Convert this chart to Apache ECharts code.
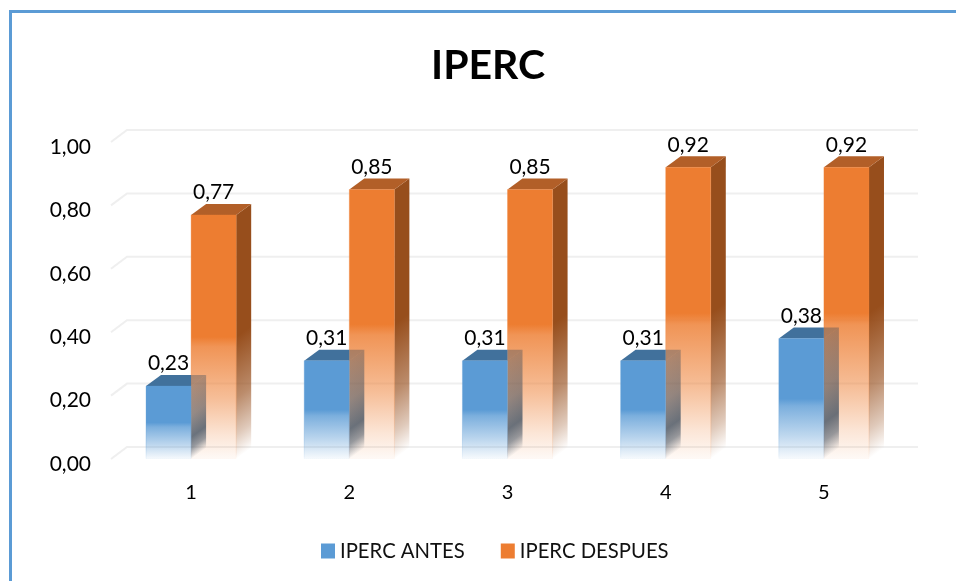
<!DOCTYPE html>
<html>
<head>
<meta charset="utf-8">
<style>html,body{margin:0;padding:0;background:#fff}#c{width:956px;height:581px}</style>
<script src="https://cdn.jsdelivr.net/npm/echarts@6/dist/echarts.min.js"></script>
</head>
<body>
<div id="c"></div>
<script>
const categories = ['1','2','3','4','5'];
const antes = [0.23,0.31,0.31,0.31,0.38];
const despues = [0.77,0.85,0.85,0.92,0.92];
const yTicks = [0,0.2,0.4,0.6,0.8,1];

const DX = 15, DY = 11, FONT = 'Lato';
const G = echarts.graphic.LinearGradient;
const stops = (rgb, pts) => pts.map(p => ({offset:p[0], color:`rgba(${rgb},${p[1]})`}));

function skewGrad(xl, yt, H, s) {
  const k = DY/DX, n = 1 + k*k, L = H/n;
  return new G(xl, yt, xl + k*L, yt + L, s, true);
}

function bar3d(cfg) {
  return function (params, api) {
    const base = api.coord([api.value(0), 0]);
    const top = api.coord([api.value(0), api.value(1)]);
    const w = api.size([1,0])[0] * 0.285;
    const xl = base[0] + cfg.side * w, xr = xl + w;
    const yb = base[1], yt = top[1], H = yb - yt;
    const children = [];
    const poly = (points, fill) => children.push({type:'polygon', shape:{points}, style:{fill}});
    poly([[xr,yt],[xr+DX,yt-DY],[xr+DX,yb-DY],[xr,yb]], skewGrad(xr, yt, H, stops(cfg.sideRgb, cfg.sideStops)));
    if (cfg.overlap) {
      poly([[xl,yt],[xr,yt],[xr,yt-DY],[xl+DX,yt-DY]], cfg.topColor);
      poly([[xr,yt],[xr+DX,yt-DY],[xr,yt-DY]], `rgba(${cfg.sideRgb},0.36)`);
    } else {
      poly([[xl,yt],[xr,yt],[xr+DX,yt-DY],[xl+DX,yt-DY]], cfg.topColor);
    }
    children.push({type:'rect', shape:{x:xl,y:yt,width:w,height:H},
      style:{fill:new G(0,0,0,1,stops(cfg.rgb,cfg.frontStops)),
        stroke:new G(0,0,0,1,stops(cfg.rgb,[[0,0.3],[0.8,0.3],[0.97,0.1],[1,0]])), lineWidth:1}});
    children.push({type:'text', style:{x:(xl+xr)/2, y:yt-DY-1, text:api.value(1).toFixed(2).replace('.',','),
      align:'center', verticalAlign:'bottom', font:`21px ${FONT}`, fill:'#000'}, z2:10});
    return {type:'group', children};
  };
}

function gridLines(params, api) {
  const y = api.coord([0, api.value(0)])[1];
  const cs = params.coordSys;
  const x0 = cs.x - 1;
  return {type:'polyline', shape:{points:[[x0,y],[x0+DX+1,y-DY-1],[x0+cs.width+DX+1,y-DY-1]]},
    style:{stroke:'#efefef', lineWidth:2, fill:null}};
}

const chart = echarts.init(document.getElementById('c'), null, {renderer:'canvas'});
chart.setOption({
  animation:false,
  backgroundColor:'#fff',
  title:{text:'IPERC', left:431, top:45,
    padding:0, textStyle:{fontFamily:FONT, fontWeight:'bold', fontSize:41, color:'#000'}},
  graphic:[{type:'polyline', shape:{points:[[10.5,581],[10.5,11.5],[956,11.5]]},
    style:{stroke:'#5b9bd5', lineWidth:3, fill:null}}],
  legend:{left:321, top:541, padding:0, itemWidth:14, itemHeight:15, itemGap:36, data:['IPERC ANTES','IPERC DESPUES'],
    textStyle:{fontFamily:FONT, fontSize:20.3, color:'#111'}, icon:'rect', selectedMode:false},
  grid:{left:112, top:142, width:791, height:317},
  xAxis:{type:'category', data:categories, axisLine:{show:false}, axisTick:{show:false}, splitLine:{show:false},
    axisLabel:{margin:24, fontFamily:FONT, fontSize:20, color:'#000'}},
  yAxis:{type:'value', min:0, max:1, interval:0.2, axisLine:{show:false}, axisTick:{show:false}, splitLine:{show:false},
    axisLabel:{margin:21, fontFamily:FONT, fontSize:21, color:'#000', verticalAlign:'top', lineHeight:10,
      formatter:v=>v.toFixed(2).replace('.',',')}},
  series:[
    {type:'custom', name:'IPERC ANTES', z:3, clip:false, itemStyle:{color:'#5b9bd5'},
      encode:{x:0,y:1}, data:antes.map((v,i)=>[i,v]),
      renderItem:bar3d({side:-1, rgb:'91,155,213', topColor:'#41719c', sideRgb:'50,70,90', overlap:true,
        frontStops:[[0,1],[0.5,1],[0.56,0.8],[0.8,0.4],[1,0.04]],
        sideStops:[[0,0.36],[0.4,0.5],[0.7,0.72],[0.85,0.5],[1,0]]})},
    {type:'custom', name:'IPERC DESPUES', z:2, clip:false, itemStyle:{color:'#ed7d31'},
      encode:{x:0,y:1}, data:despues.map((v,i)=>[i,v]),
      renderItem:bar3d({side:0, rgb:'237,125,49', topColor:'#b25f28', sideRgb:'151,78,28', overlap:false,
        frontStops:[[0,1],[0.5,1],[0.54,0.82],[0.75,0.5],[0.9,0.2],[1,0.04]],
        sideStops:[[0,1],[0.5,1],[0.75,0.65],[0.9,0.3],[1,0]]})},
    {type:'custom', z:1, silent:true, clip:false, encode:{y:0}, data:yTicks.map(v=>[v]),
      coordinateSystem:'cartesian2d', renderItem:gridLines}
  ]
});
</script>
</body>
</html>
